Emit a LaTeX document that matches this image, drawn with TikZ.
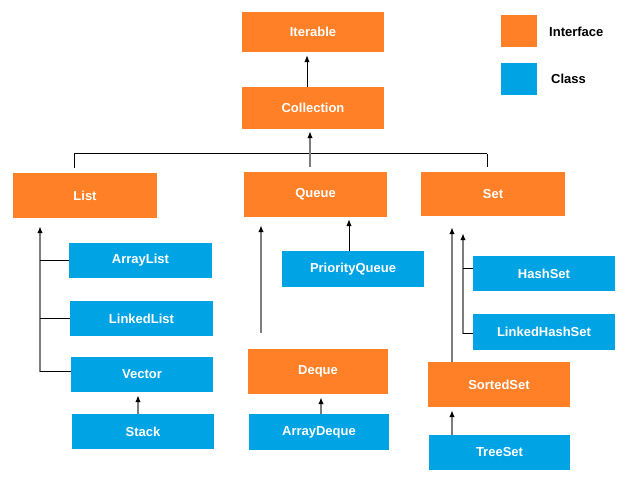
\documentclass[tikz,border=0pt]{standalone}
\usepackage{fontspec}
\setmainfont{Liberation Sans}
\usetikzlibrary{arrows.meta}
\definecolor{ifaceorange}{RGB}{255,128,38}
\definecolor{classblue}{RGB}{0,163,228}
\definecolor{trunkgray}{RGB}{125,125,125}
\tikzset{
  box/.style={draw=none, inner sep=0pt, text=white,
    font=\fontsize{13}{15}\selectfont\bfseries},
  iface/.style={box, fill=ifaceorange},
  klass/.style={box, fill=classblue},
  wire/.style={line width=1pt, black},
  trunk/.style={line width=1.5pt, trunkgray},
  tip/.style={-{Latex[length=7pt,width=5.5pt,black]}},
  legend/.style={font=\fontsize{13}{15}\selectfont\bfseries, text=black, anchor=west, inner sep=0pt}
}
\begin{document}
\begin{tikzpicture}[x=1pt,y=-1pt]
\useasboundingbox (0,0) rectangle (630,502);

% interfaces
\node[iface, minimum width=142, minimum height=40] (iterable)   at (313,32)    {Iterable};
\node[iface, minimum width=142, minimum height=42] (collection) at (313,108)   {Collection};
\node[iface, minimum width=144, minimum height=45] (list)       at (85,195.5)  {List};
\node[iface, minimum width=143, minimum height=45] (queue)      at (315.5,194.5) {Queue};
\node[iface, minimum width=144, minimum height=44] (set)        at (493,194)   {Set};
\node[iface, minimum width=140, minimum height=45] (deque)      at (318,371.5) {Deque};
\node[iface, minimum width=142, minimum height=45] (sortedset)  at (499,384.5) {SortedSet};

% classes
\node[klass, minimum width=143, minimum height=35] (arraylist)     at (140.5,260.5) {ArrayList};
\node[klass, minimum width=143, minimum height=35] (linkedlist)    at (141.5,318.5) {LinkedList};
\node[klass, minimum width=142, minimum height=35] (vector)        at (142,374.5)   {Vector};
\node[klass, minimum width=142, minimum height=35] (stack)         at (143,431.5)   {Stack};
\node[klass, minimum width=142, minimum height=36] (priorityqueue) at (353,269)     {PriorityQueue};
\node[klass, minimum width=140, minimum height=36] (arraydeque)    at (319,432)     {ArrayDeque};
\node[klass, minimum width=142, minimum height=35] (hashset)       at (544,273.5)   {HashSet};
\node[klass, minimum width=142, minimum height=36] (linkedhashset) at (544,332)     {LinkedHashSet};
\node[klass, minimum width=141, minimum height=35] (treeset)       at (499.5,452.5) {TreeSet};

% legend
\node[iface, minimum width=36, minimum height=32] (legI) at (519,31.5) {};
\node[klass, minimum width=36, minimum height=32] (legC) at (519,79)   {};
\node[legend] (legIt) at (549,32) {Interface};
\node[legend] (legCt) at (551,79) {Class};

% column positions of the vertical connectors
\coordinate (xIter)  at (307,0);
\coordinate (xColl)  at (310,0);
\coordinate (busL)   at (74,154);
\coordinate (busR)   at (487,154);
\coordinate (xList)  at (40,0);
\coordinate (xStack) at (138,0);
\coordinate (xQueue) at (261,0);
\coordinate (qFree)  at (261,333);
\coordinate (xPQ)    at (349,0);
\coordinate (xAD)    at (321,0);
\coordinate (xSetA)  at (452,0);
\coordinate (xSetB)  at (463,0);
\coordinate (yLHS)   at (0,334);
\coordinate (yHS)    at (0,269);
\coordinate (yVec)   at (0,372);

% Collection -> Iterable
\draw[wire, tip, shorten >=3pt] (xIter |- collection.north) -- (xIter |- iterable.south);

% bus from Collection to List, Queue, Set
\draw[wire] (busL) -- (busR);
\draw[wire, shorten >=5pt] (busL) -- (busL |- list.north);
\draw[wire, shorten >=5pt] (busR) -- (busR |- set.north);
\draw[trunk, tip, shorten <=5pt, shorten >=2pt] (xColl |- queue.north) -- (xColl |- collection.south);

% List implementations
\draw[trunk, tip, shorten >=8pt] (xList |- yVec) -- (xList |- list.south);
\draw[wire] (xList |- arraylist.west) -- (arraylist.west);
\draw[wire] (xList |- linkedlist.west) -- (linkedlist.west);
\draw[wire] (xList |- yVec) -- (vector.west |- yVec);
\draw[trunk, tip, shorten >=3pt] (xStack |- stack.north) -- (xStack |- vector.south);

% Queue hierarchy
\draw[trunk, tip, shorten >=8pt] (qFree) -- (xQueue |- queue.south);
\draw[wire, tip, shorten >=2pt] (xPQ |- priorityqueue.north) -- (xPQ |- queue.south);
\draw[trunk, tip, shorten >=3pt] (xAD |- arraydeque.north) -- (xAD |- deque.south);

% Set hierarchy
\draw[trunk, tip, shorten >=11pt] (xSetA |- sortedset.north) -- (xSetA |- set.south);
\draw[trunk, tip, shorten >=17pt] (xSetB |- yLHS) -- (xSetB |- set.south);
\draw[wire] (xSetB |- yHS) -- (hashset.west |- yHS);
\draw[wire] (xSetB |- yLHS) -- (linkedhashset.west |- yLHS);
\draw[trunk, tip, shorten >=3pt] (xSetA |- treeset.north) -- (xSetA |- sortedset.south);
\end{tikzpicture}
\end{document}
